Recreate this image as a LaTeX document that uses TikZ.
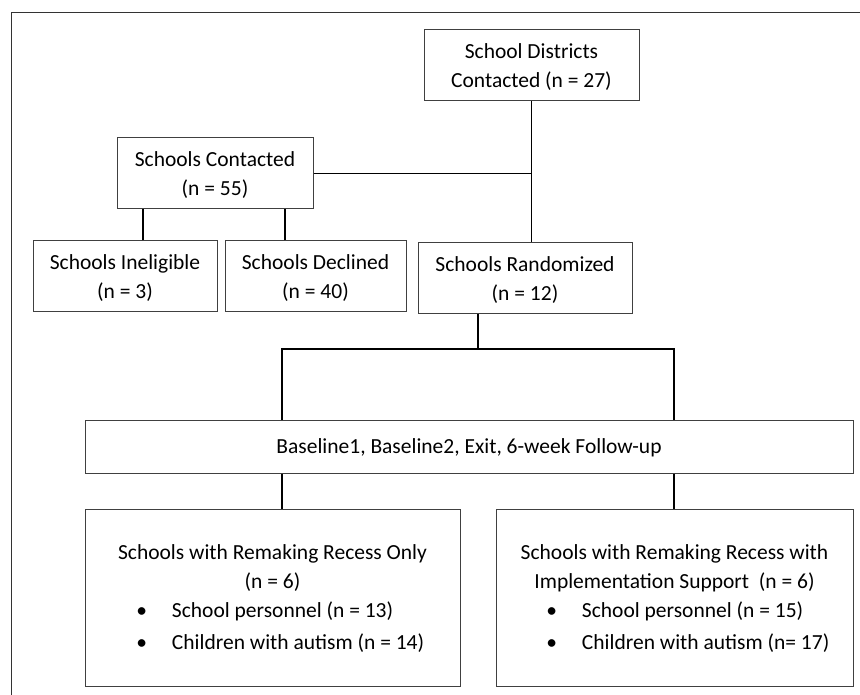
\documentclass[tikz,border=0pt]{standalone}
\usepackage{fontspec}
\setmainfont{Carlito}
\usepackage{tikz}

\tikzset{
  box/.style={draw=black!75, line width=1pt, inner sep=0pt, align=center,
    text depth=0pt, font=\fontsize{21.5}{29}\selectfont},
  link/.style={black, line width=1.6pt}
}

\begin{document}
\begin{tikzpicture}[x=1pt,y=-1pt]
\useasboundingbox (0,0) rectangle (860,695);
\draw [black!80, line width=1pt] (11,695) -- (11,13) -- (860,13);

\node [box, minimum width=215pt, minimum height=71pt] (dist) at (531.5,65.5) {School Districts\\Contacted (n = 27)};
\node [box, minimum width=196pt, minimum height=71pt] (sc) at (215,173.5) {Schools Contacted\\(n = 55)};

\node [box, minimum width=184pt, minimum height=71pt] (ine) at (125,276.5) {Schools Ineligible\\(n = 3)};
\node [box, minimum width=181pt, minimum height=71pt] (dec) at (315.5,276.5) {Schools Declined\\(n = 40)};
\node [box, minimum width=214pt, minimum height=71pt] (rnd) at (525,278.5) {Schools Randomized\\(n = 12)};

\node [box, minimum width=768pt, minimum height=53pt] (base) at (469,446.5) {Baseline1, Baseline2, Exit, 6-week Follow-up};

\node [box, minimum width=375pt, minimum height=177pt] (only) at (272.5,597.5) {Schools with Remaking Recess Only\\(n = 6)\\
  \makebox[201pt][l]{\llap{•\hspace{25pt}}School personnel (n = 13)}\\[3pt]
  \makebox[201pt][l]{\llap{•\hspace{25pt}}Children with autism (n = 14)}};
\node [box, minimum width=357pt, minimum height=177pt] (supp) at (674.5,597.5) {Schools with Remaking Recess with\\Implementation Support~~(n = 6)\\
  \makebox[185pt][l]{\llap{•\hspace{25pt}}School personnel (n = 15)}\\[3pt]
  \makebox[185pt][l]{\llap{•\hspace{25pt}}Children with autism (n= 17)}};

% links
\draw [link] (dist.south) -- (dist.south |- rnd.north);
\draw [link] (sc.east) -- (sc.east -| dist.south);
\draw [link] ([xshift=18pt]ine.north) -- ([xshift=18pt]ine.north |- sc.south);
\draw [link] ([xshift=-30.5pt]dec.north) -- ([xshift=-30.5pt]dec.north |- sc.south);

%
\coordinate (forkL) at (282,349);
\coordinate (forkR) at (674,349);
\draw [link] ([xshift=-47pt]rnd.south) -- ([xshift=-47pt]rnd.south |- forkL);
\draw [link] (forkL |- base.north) -- (forkL) -- (forkR) -- (forkR |- base.north);
\draw [link] (forkL |- base.south) -- (forkL |- only.north);
\draw [link] (forkR |- base.south) -- (forkR |- supp.north);
\end{tikzpicture}
\end{document}
